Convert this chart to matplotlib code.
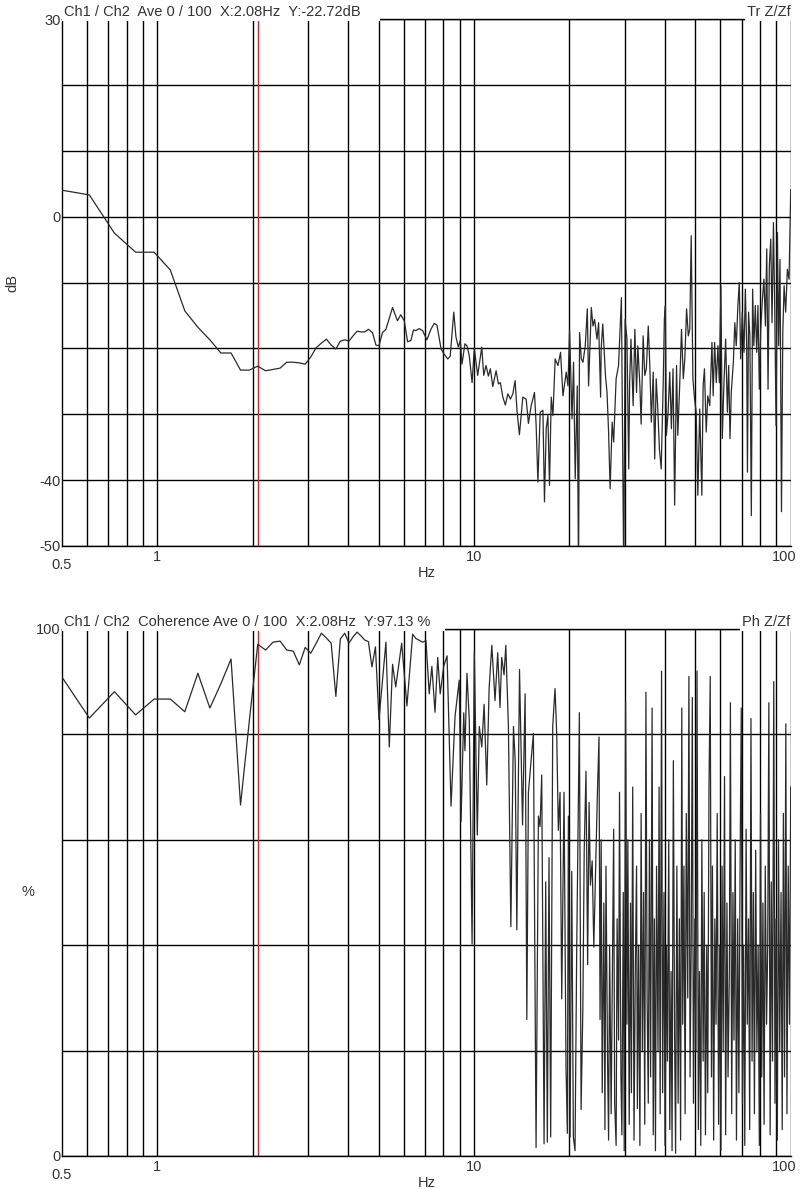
import matplotlib
matplotlib.use("Agg")
import matplotlib.pyplot as plt
import matplotlib.transforms as mtransforms

plt.rcParams['font.family'] = ['Liberation Sans', 'DejaVu Sans']

# transfer function magnitude (dB) vs frequency (Hz)
tr_freq = [0.488, 0.610, 0.732, 0.854, 0.977, 1.099, 1.221, 1.343, 1.465, 1.587,
           1.709, 1.831, 1.953, 2.075, 2.197, 2.319, 2.441, 2.563, 2.686, 2.808,
           2.930, 3.052, 3.174, 3.296, 3.418, 3.540, 3.662, 3.784, 3.906, 4.028,
           4.150, 4.272, 4.395, 4.517, 4.639, 4.78, 4.90, 5.01, 5.14, 5.27,
           5.53, 5.73, 5.87, 6.02, 6.17, 6.32, 6.44, 6.55, 6.71, 6.88,
           7.10, 7.31, 7.49, 7.64, 7.87, 8.05, 8.26, 8.41, 8.63, 8.77,
           8.92, 9.05, 9.16, 9.36, 9.50, 9.66, 9.86, 10.02, 10.27, 10.58,
           10.73, 10.91, 11.10, 11.26, 11.46, 11.74, 11.94, 12.11, 12.33, 12.56,
           12.79, 13.03, 13.26, 13.48, 13.68, 13.91, 14.26, 14.61, 14.85, 15.15,
           15.52, 15.71, 15.91, 16.18, 16.50, 16.69, 16.90, 17.11, 17.31, 17.53,
           17.75, 18.04, 18.41, 18.76, 19.09, 19.55, 19.80, 20.03, 20.39, 20.62,
           20.87, 21.18, 21.38, 21.54, 21.81, 22.08, 22.45, 22.79, 23.00, 23.46,
           23.75, 24.03, 24.45, 24.74, 25.10, 25.2, 25.5, 26.0, 26.3, 26.6,
           26.9, 27.3, 27.6, 28.1, 28.6, 29.2, 29.7, 30.0, 30.4, 30.8,
           31.0, 31.3, 31.8, 32.2, 32.6, 32.9, 33.4, 33.7, 34.2, 34.6,
           35.0, 35.5, 35.9, 36.3, 36.8, 37.2, 37.6, 38.0, 38.5, 39.0,
           39.6, 39.9, 40.2, 40.5, 41.0, 41.5, 42.0, 42.5, 43.0, 43.6,
           44.0, 44.6, 45.2, 45.8, 46.3, 46.9, 47.5, 48.0, 48.5, 49.1,
           49.7, 50.3, 50.9, 51.6, 52.4, 52.9, 53.4, 54.1, 54.7, 55.5,
           56.4, 56.9, 57.5, 58.2, 58.9, 59.5, 60.2, 60.8, 61.5, 62.3,
           63.1, 63.7, 64.3, 64.9, 65.9, 66.6, 67.3, 68.1, 68.8, 69.5,
           70.3, 71.2, 71.9, 72.6, 73.0, 73.6, 74.3, 75.1, 75.8, 76.5,
           77.3, 78.1, 78.8, 79.6, 80.4, 81.4, 82.3, 83.2, 84.0, 84.8,
           85.6, 86.5, 87.3, 88.2, 89.0, 89.9, 90.8, 91.6, 92.5, 93.5,
           94.4, 95.3, 96.4, 97.6, 98.8, 99.5, 100.0]
tr_db = [4.1, 3.3, -2.5, -5.4, -5.4, -8.1, -14.3, -16.8, -18.7, -20.7,
         -20.7, -23.3, -23.3, -22.7, -23.4, -23.2, -23.0, -22.1, -22.1, -22.2,
         -22.4, -21.3, -19.9, -19.2, -18.6, -19.5, -20.1, -18.9, -18.7, -18.9,
         -18.1, -17.4, -17.5, -17.5, -17.1, -17.6, -19.5, -19.6, -17.6, -17.1,
         -13.8, -15.8, -14.9, -15.8, -19.0, -18.8, -17.2, -17.3, -17.0, -17.3,
         -18.7, -17.1, -16.2, -16.5, -20.1, -20.9, -21.6, -21.2, -14.5, -18.3,
         -19.8, -18.8, -22.4, -19.3, -19.6, -21.1, -25.2, -20.0, -24.1, -19.8,
         -24.1, -22.6, -24.2, -23.1, -25.8, -23.4, -25.4, -25.2, -27.4, -28.6,
         -26.9, -27.7, -26.9, -24.9, -29.7, -33.1, -27.4, -27.7, -31.4, -28.7,
         -26.7, -31.7, -40.3, -29.7, -29.4, -43.3, -32.2, -30.2, -40.8, -27.4,
         -30.2, -21.6, -22.6, -20.6, -27.2, -23.6, -25.7, -17.3, -30.7, -22.1,
         -39.8, -25.7, -55.0, -17.6, -21.6, -22.1, -19.6, -14.0, -25.7, -13.8,
         -16.6, -15.6, -18.6, -16.1, -27.4, -20.1, -16.3, -24.1, -26.7, -32.7,
         -41.3, -31.2, -34.2, -24.6, -22.6, -12.3, -55.0, -15.6, -18.6, -38.3,
         -25.2, -18.6, -28.7, -17.1, -26.7, -19.6, -25.7, -31.5, -18.1, -24.1,
         -23.1, -16.6, -22.6, -31.2, -23.6, -36.8, -24.6, -28.7, -35.3, -38.3,
         -24.6, -15.6, -13.5, -33.2, -29.7, -23.6, -32.2, -23.1, -43.8, -22.6,
         -33.2, -25.7, -17.1, -24.6, -21.6, -14.0, -18.1, -17.1, -2.9, -24.6,
         -27.7, -29.7, -42.3, -29.2, -42.3, -25.7, -23.1, -32.7, -27.2, -28.7,
         -19.1, -27.2, -19.1, -25.2, -19.6, -25.2, -10.5, -33.7, -25.7, -18.6,
         -29.7, -22.6, -33.7, -26.7, -22.1, -16.1, -19.6, -13.5, -10.0, -21.6,
         -14.5, -20.6, -11.0, -19.6, -38.8, -14.5, -18.1, -45.4, -11.0, -19.6,
         -13.5, -20.6, -13.5, -26.2, -17.1, -12.5, -9.5, -16.6, -4.9, -26.2,
         -7.5, -3.4, -16.1, -0.9, -13.5, -31.7, -2.4, -19.6, -6.5, -44.8,
         -17.6, -10.5, -14.5, -8.0, -9.5, -1.4, 4.1]

# coherence (%) vs frequency (Hz), below 25 Hz
coh_lo_freq = [0.488, 0.610, 0.732, 0.854, 0.977, 1.099, 1.221, 1.343, 1.465, 1.587,
               1.709, 1.831, 1.953, 2.075, 2.197, 2.319, 2.441, 2.563, 2.686, 2.808,
               2.930, 3.052, 3.174, 3.296, 3.418, 3.540, 3.662, 3.784, 3.906, 4.028,
               4.150, 4.272, 4.395, 4.517, 4.639, 4.761, 4.883, 5.01, 5.27, 5.40,
               5.53, 5.66, 5.91, 6.14, 6.40, 6.55, 6.88, 7.05, 7.22, 7.36,
               7.53, 7.68, 7.82, 8.02, 8.22, 8.46, 8.71, 8.98, 9.10, 9.28,
               9.36, 9.50, 9.66, 9.86, 10.02, 10.24, 10.39, 10.58, 10.76, 10.97,
               11.16, 11.38, 11.65, 11.88, 12.08, 12.23, 12.44, 12.60, 12.84, 13.07,
               13.32, 13.49, 13.65, 13.92, 14.09, 14.23, 14.50, 14.68, 14.85, 15.40,
               15.70, 15.97, 16.16, 16.36, 16.64, 16.84, 17.04, 17.25, 17.46, 17.72,
               18.02, 18.24, 18.46, 18.69, 18.92, 19.24, 19.52, 19.71, 19.86, 20.10,
               20.35, 20.59, 20.84, 21.10, 21.51, 21.78, 22.06, 22.28, 22.57, 22.84,
               23.08, 23.31, 23.61, 23.89, 24.20, 24.51, 24.81, 25.00]
coh_lo_pct = [91.8, 83.1, 88.1, 83.7, 86.7, 86.7, 84.3, 91.6, 85.0, 89.6,
              94.3, 66.6, 82.7, 97.1, 96.0, 97.5, 97.7, 96.0, 95.8, 93.2,
              96.5, 95.4, 97.3, 99.2, 98.3, 97.3, 87.2, 98.1, 99.2, 97.3,
              98.5, 99.4, 98.7, 97.9, 97.6, 92.8, 96.6, 82.8, 97.5, 77.6,
              93.3, 89.0, 97.3, 85.4, 99.0, 98.2, 97.5, 97.8, 87.7, 92.9,
              84.2, 94.6, 87.7, 92.9, 94.9, 66.4, 83.4, 90.3, 63.5, 84.1,
              76.9, 91.6, 82.8, 40.2, 95.5, 60.9, 81.5, 77.6, 85.7, 70.4,
              88.7, 96.9, 86.4, 95.5, 85.1, 94.6, 91.3, 96.9, 81.5, 43.5,
              81.5, 74.9, 42.9, 92.3, 75.6, 62.8, 87.7, 25.9, 69.0, 80.2,
              1.6, 64.5, 62.5, 72.3, 2.3, 52.0, 2.6, 56.6, 3.6, 81.5,
              88.7, 80.2, 61.8, 69.0, 29.8, 69.0, 16.7, 4.3, 64.5, 3.6,
              54.0, 3.6, 1.0, 39.6, 84.1, 8.8, 27.8, 57.9, 73.0, 36.3,
              67.1, 51.4, 56.0, 39.6, 54.0, 68.4, 79.5, 25.9]

# coherence (%) vs frequency (Hz), 25 Hz and up
coh_hi_freq = [25.2, 25.4, 25.7, 25.9, 26.1, 26.4, 26.6, 26.8, 27.1, 27.3,
               27.6, 27.8, 28.1, 28.3, 28.6, 28.8, 29.1, 29.3, 29.6, 29.8,
               30.1, 30.4, 30.6, 30.9, 31.2, 31.4, 31.7, 32.0, 32.3, 32.6,
               32.8, 33.1, 33.4, 33.7, 34.0, 34.3, 34.6, 34.9, 35.2, 35.5,
               35.8, 36.1, 36.5, 36.8, 37.1, 37.4, 37.7, 38.1, 38.4, 38.7,
               39.1, 39.4, 39.8, 40.1, 40.5, 40.8, 41.2, 41.5, 41.9, 42.2,
               42.6, 43.0, 43.3, 43.7, 44.1, 44.5, 44.9, 45.3, 45.6, 46.0,
               46.4, 46.8, 47.3, 47.7, 48.1, 48.5, 48.9, 49.3, 49.8, 50.2,
               50.6, 51.1, 51.5, 52.0, 52.4, 52.9, 53.3, 53.8, 54.3, 54.7,
               55.2, 55.7, 56.2, 56.6, 57.1, 57.6, 58.1, 58.6, 59.2, 59.7,
               60.2, 60.7, 61.2, 61.8, 62.3, 62.9, 63.4, 64.0, 64.5, 65.1,
               65.7, 66.2, 66.8, 67.4, 68.0, 68.6, 69.2, 69.8, 70.4, 71.0,
               71.6, 72.3, 72.9, 73.6, 74.2, 74.9, 75.5, 76.2, 76.8, 77.5,
               78.2, 78.9, 79.6, 80.3, 81.0, 81.7, 82.4, 83.1, 83.9, 84.6,
               85.3, 86.1, 86.8, 87.6, 88.4, 89.2, 89.9, 90.7, 91.5, 92.3,
               93.2, 94.0, 94.8, 95.6, 96.5, 97.3, 98.2, 99.1, 100.0]
coh_hi_pct = [60, 12, 48, 5, 55, 18, 3, 40, 8, 30,
              62, 10, 2, 45, 22, 69, 15, 4, 50, 1,
              86, 25, 60, 6, 48, 12, 70, 3, 35, 55,
              9, 40, 2, 65, 20, 50, 6, 88, 30, 10,
              60, 15, 85, 4, 45, 1, 55, 20, 70, 8,
              92, 12, 50, 2, 40, 18, 60, 5, 35, 1,
              75, 22, 0.5, 55, 10, 45, 3, 85, 25, 55,
              8, 65, 30, 91, 15, 40, 87, 10, 45, 20,
              92, 5, 35, 2, 60, 18, 50, 4, 40, 12,
              70, 91, 15, 55, 3, 45, 25, 65, 6, 40,
              1, 55, 20, 72, 4, 48, 15, 35, 86, 8,
              50, 22, 60, 3, 45, 12, 55, 85, 10, 40,
              2, 62, 25, 45, 5, 83, 18, 50, 8, 58,
              20, 40, 2, 65, 15, 48, 6, 55, 25, 40,
              86, 4, 52, 18, 90, 10, 45, 3, 60, 20,
              50, 5, 65, 15, 82, 8, 55, 25, 70]

cursor_hz = 2.08
minor_hz = [0.6, 0.7, 0.8, 0.9, 2, 3, 4, 5, 6, 7, 8, 9, 20, 30, 40, 50, 60, 70, 80, 90]
major_hz = [1, 10, 100]

txt = '#333333'
fs = 10.5

fig = plt.figure(figsize=(8, 11.89), dpi=100)
ax1 = fig.add_axes([0.0775, 0.5408, 0.9109, 0.4432])
ax2 = fig.add_axes([0.0775, 0.0278, 0.9109, 0.4432])


def setup(ax, ylim, yticks, ylabels, left_title, right_title):
    ax.set_xscale('log')
    ax.set_xlim(0.5, 100)
    ax.set_ylim(*ylim)
    ax.set_xticks(major_hz)
    ax.set_xticks(minor_hz, minor=True)
    ax.set_xticklabels(['1', '10', '100'])
    ax.xaxis.set_minor_formatter(plt.NullFormatter())
    ax.set_yticks(yticks)
    ax.set_yticklabels(ylabels)
    ax.tick_params(which='both', length=0, labelsize=fs, labelcolor=txt)
    ax.tick_params(axis='x', pad=3)
    ax.tick_params(axis='y', pad=1)
    ax.grid(which='both', color='black', lw=1.0)
    ax.set_axisbelow(True)
    for s in ax.spines.values():
        s.set_color('black')
        s.set_linewidth(1.0)
    ax.spines['right'].set_visible(False)
    # the "100" label sits a little left of its gridline
    lab = ax.get_xticklabels()[-1]
    lab.set_transform(lab.get_transform() + mtransforms.ScaledTranslation(-5 / 72, 0, fig.dpi_scale_trans))
    ax.text(0.5, -0.0225, '0.5', transform=ax.get_xaxis_transform(), ha='center', va='top',
            fontsize=fs, color=txt)
    ax.set_xlabel('Hz', fontsize=fs, color=txt)
    ax.xaxis.set_label_coords(0.5, -0.051)
    ax.xaxis.label.set_va('center')
    ax.axvline(cursor_hz, color='#c62828', lw=1.0, zorder=2)
    box = dict(facecolor='white', edgecolor='none', boxstyle='square,pad=0.15')
    shift = mtransforms.ScaledTranslation(1.6 / 72, 0, fig.dpi_scale_trans)
    ax.text(0.0, 1.0, left_title, transform=ax.transAxes + shift, ha='left', va='bottom',
            fontsize=fs, color=txt, bbox=box, zorder=10)
    ax.text(1.0, 1.0, right_title, transform=ax.transAxes, ha='right', va='bottom',
            fontsize=fs, color=txt, bbox=box, zorder=10)


setup(ax1, (-50, 30), list(range(-50, 31, 10)),
      ['-50', '-40', '', '', '', '0', '', '', '30'],
      'Ch1 / Ch2  Ave 0 / 100  X:2.08Hz  Y:-22.72dB    ', 'Tr Z/Zf')
setup(ax2, (0, 100), list(range(0, 101, 20)),
      ['0', '', '', '', '', '100'],
      'Ch1 / Ch2  Coherence Ave 0 / 100  X:2.08Hz  Y:97.13 %   ', 'Ph Z/Zf')

ax1.plot(tr_freq, tr_db, color='#2a2a2a', lw=0.9, zorder=3)
ax2.plot(coh_lo_freq + coh_hi_freq, coh_lo_pct + coh_hi_pct, color='#2a2a2a', lw=0.9, zorder=3)

ax1.set_ylabel('dB', fontsize=fs, color=txt)
ax1.yaxis.set_label_coords(-0.0686, 0.5)
ax1.yaxis.label.set_va('center')
ax2.set_ylabel('%', fontsize=fs, color=txt, rotation=0)
ax2.yaxis.set_label_coords(-0.0467, 0.5)
ax2.yaxis.label.set_va('center')
ax2.yaxis.label.set_ha('center')

fig.savefig('out.png', dpi=100, facecolor='white')
